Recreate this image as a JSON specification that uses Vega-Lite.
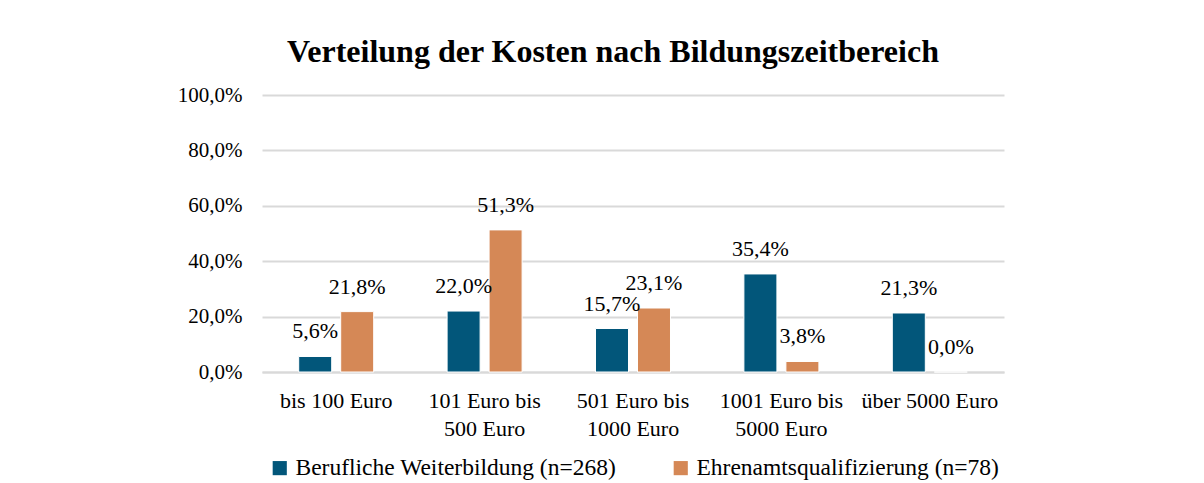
{
  "$schema": "https://vega.github.io/schema/vega-lite/v6.json",
  "width": 742,
  "height": 277,
  "autosize": {"type": "none"},
  "padding": {"left": 262, "top": 95, "right": 200, "bottom": 111},
  "background": "white",
  "title": {
    "text": "Verteilung der Kosten nach Bildungszeitbereich",
    "font": "Liberation Serif",
    "fontSize": 32,
    "fontWeight": "bold",
    "color": "#000000",
    "anchor": "middle",
    "frame": "group",
    "baseline": "alphabetic",
    "offset": -10,
    "dx": -20
  },
  "data": {
    "values": [
      {"kategorie": "bis 100 Euro", "serie": "Berufliche Weiterbildung (n=268)", "anteil": 0.056},
      {"kategorie": "bis 100 Euro", "serie": "Ehrenamtsqualifizierung (n=78)", "anteil": 0.218},
      {"kategorie": "101 Euro bis 500 Euro", "serie": "Berufliche Weiterbildung (n=268)", "anteil": 0.220},
      {"kategorie": "101 Euro bis 500 Euro", "serie": "Ehrenamtsqualifizierung (n=78)", "anteil": 0.513},
      {"kategorie": "501 Euro bis 1000 Euro", "serie": "Berufliche Weiterbildung (n=268)", "anteil": 0.157},
      {"kategorie": "501 Euro bis 1000 Euro", "serie": "Ehrenamtsqualifizierung (n=78)", "anteil": 0.231},
      {"kategorie": "1001 Euro bis 5000 Euro", "serie": "Berufliche Weiterbildung (n=268)", "anteil": 0.354},
      {"kategorie": "1001 Euro bis 5000 Euro", "serie": "Ehrenamtsqualifizierung (n=78)", "anteil": 0.038},
      {"kategorie": "über 5000 Euro", "serie": "Berufliche Weiterbildung (n=268)", "anteil": 0.213},
      {"kategorie": "über 5000 Euro", "serie": "Ehrenamtsqualifizierung (n=78)", "anteil": 0.0}
    ]
  },
  "encoding": {
    "x": {
      "field": "kategorie",
      "type": "nominal",
      "sort": null,
      "scale": {"paddingInner": 0, "paddingOuter": 0},
      "axis": {
        "title": null,
        "labelAngle": 0,
        "ticks": false,
        "domain": true,
        "domainColor": "#D9D9D9",
        "domainWidth": 2,
        "labelPadding": 18,
        "labelFont": "Liberation Serif",
        "labelFontSize": 22,
        "labelColor": "#000000",
        "labelLineHeight": 28,
        "labelBaseline": "top",
        "labelExpr": "indexof(datum.label, ' bis ') > 0 ? [slice(datum.label, 0, indexof(datum.label, ' bis ') + 4), slice(datum.label, indexof(datum.label, ' bis ') + 5)] : datum.label"
      }
    },
    "xOffset": {
      "field": "serie",
      "type": "nominal",
      "scale": {"paddingInner": 0.214, "paddingOuter": 0.874}
    },
    "y": {
      "field": "anteil",
      "type": "quantitative",
      "scale": {"domain": [0, 1]},
      "axis": {
        "title": null,
        "values": [0, 0.2, 0.4, 0.6, 0.8, 1.0],
        "format": ".1%",
        "domain": false,
        "ticks": false,
        "grid": true,
        "gridColor": "#D9D9D9",
        "gridWidth": 2,
        "labelPadding": 20,
        "labelFont": "Liberation Serif",
        "labelFontSize": 21,
        "labelColor": "#000000"
      }
    }
  },
  "layer": [
    {
      "mark": {"type": "bar", "stroke": "white", "strokeWidth": 1},
      "encoding": {
        "color": {
          "field": "serie",
          "type": "nominal",
          "scale": {
            "domain": ["Berufliche Weiterbildung (n=268)", "Ehrenamtsqualifizierung (n=78)"],
            "range": ["#02567A", "#D58856"]
          },
          "legend": {
            "title": null,
            "orient": "bottom",
            "direction": "horizontal",
            "symbolType": "square",
            "symbolSize": 200,
            "symbolStrokeWidth": 0,
            "labelFont": "Liberation Serif",
            "labelFontSize": 23.5,
            "labelColor": "#000000",
            "labelOffset": 4,
            "columnPadding": 52,
            "offset": 17,
            "labelLimit": 500
          }
        }
      }
    },
    {
      "mark": {
        "type": "text",
        "baseline": "middle",
        "dy": -25,
        "font": "Liberation Serif",
        "fontSize": 22,
        "color": "#000000"
      },
      "encoding": {
        "text": {"field": "anteil", "type": "quantitative", "format": ".1%"}
      }
    }
  ],
  "config": {
    "font": "Liberation Serif",
    "locale": {
      "number": {"decimal": ",", "thousands": ".", "grouping": [3], "currency": ["", " €"]}
    },
    "view": {"stroke": null},
    "text": {"font": "Liberation Serif"},
    "legend": {"labelFont": "Liberation Serif", "layout": {"bottom": {"anchor": "middle"}}}
  }
}
